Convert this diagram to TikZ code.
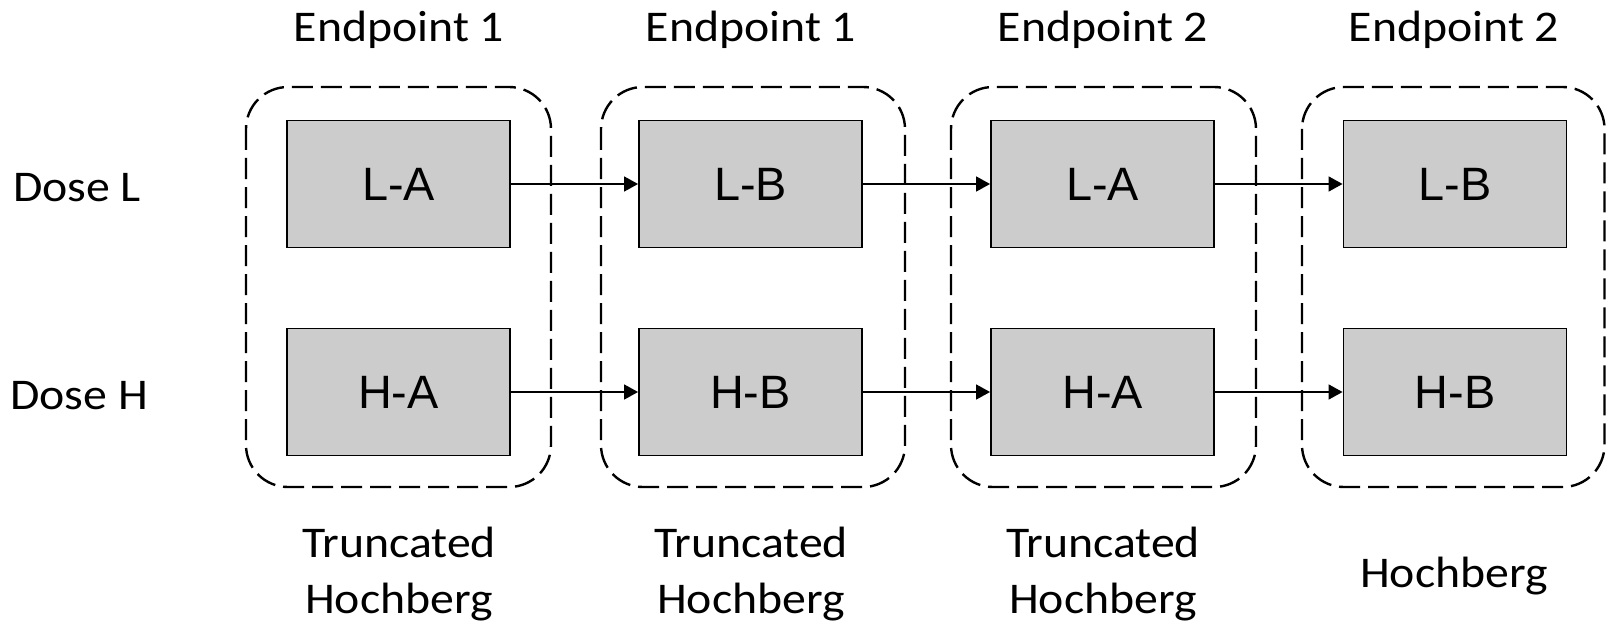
\documentclass[tikz,border=0pt]{standalone}
\usepackage{fontspec}
\setmainfont{Carlito}[FakeStretch=1.09]
\newfontfamily\boxfont{Liberation Sans}
\usetikzlibrary{arrows.meta}
\tikzset{
  stagebox/.style={draw=black, line width=1.9bp, fill=boxgray, minimum width=223bp, minimum height=127bp, inner sep=0pt, font=\boxfont\fontsize{47}{50}\selectfont},
  groupbox/.style={draw=black, line width=2.4bp, dash pattern=on 21bp off 8bp, rounded corners=42bp},
  lab/.style={font=\fontsize{44}{56}\selectfont, inner sep=0pt, align=center},
  flow/.style={line width=1.6bp, -{Triangle[length=14bp, width=15bp]}}
}
\definecolor{boxgray}{RGB}{204,204,204}
\begin{document}
\begin{tikzpicture}[x=1bp, y=-1bp]
\useasboundingbox (0,0) rectangle (1606,622);
% group boxes
\draw[groupbox] (246,87) rectangle (551,487);
\draw[groupbox] (601,87) rectangle (905,487);
\draw[groupbox] (951,87) rectangle (1256,487);
\draw[groupbox] (1302,87) rectangle (1604.5,487);
% stage boxes
\node[stagebox] (la1) at (398.5,184) {L-A};
\node[stagebox] (ha1) at (398.5,392) {H-A};
\node[stagebox] (lb1) at (750.5,184) {L-B};
\node[stagebox] (hb1) at (750.5,392) {H-B};
\node[stagebox] (la2) at (1102.5,184) {L-A};
\node[stagebox] (ha2) at (1102.5,392) {H-A};
\node[stagebox] (lb2) at (1455,184) {L-B};
\node[stagebox] (hb2) at (1455,392) {H-B};
% arrows
\draw[flow] (la1) -- (lb1);
\draw[flow] (lb1) -- (la2);
\draw[flow] (la2) -- (lb2);
\draw[flow] (ha1) -- (hb1);
\draw[flow] (hb1) -- (ha2);
\draw[flow] (ha2) -- (hb2);
% top labels
\node[lab] (e1) at (399,30) {Endpoint 1};
\node[lab] (e2) at (751,30) {Endpoint 1};
\node[lab] (e3) at (1103,30) {Endpoint 2};
\node[lab] (e4) at (1454,30) {Endpoint 2};
% row labels
\node[lab] (dl) at (77,188) {Dose L};
\node[lab] (dh) at (79,396) {Dose H};
% bottom labels
\node[lab] (m1) at (399,574) {Truncated\\Hochberg};
\node[lab] (m2) at (751,574) {Truncated\\Hochberg};
\node[lab] (m3) at (1103,574) {Truncated\\Hochberg};
\node[lab] (m4) at (1454,576) {Hochberg};
\end{tikzpicture}
\end{document}
